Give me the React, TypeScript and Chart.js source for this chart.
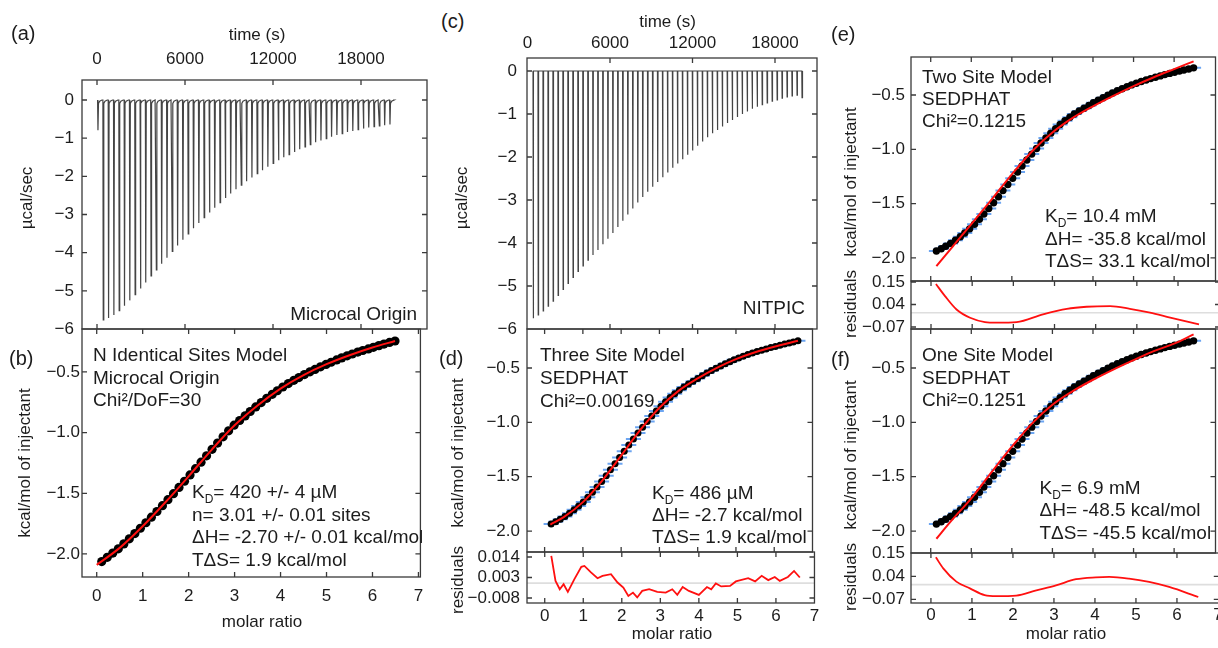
import React, { useEffect, useRef } from "react";
import { Chart, registerables } from "chart.js";

Chart.register(...registerables);

const FONT = "'Liberation Sans', Arial, Helvetica, sans-serif";
const INK = "#1c1c1c";
const FRAME = "#3a3a3a";

// ---------------- data ----------------
const injectionTimes = [
  40, 402, 764, 1126, 1488, 1850, 2212, 2574, 2936, 3298,
  3660, 4022, 4384, 4746, 5108, 5470, 5832, 6194, 6556, 6918,
  7280, 7642, 8004, 8366, 8728, 9090, 9452, 9814, 10176, 10538,
  10900, 11262, 11624, 11986, 12348, 12710, 13072, 13434, 13796, 14158,
  14520, 14882, 15244, 15606, 15968, 16330, 16692, 17054, 17416, 17778,
  18140, 18502, 18864, 19226, 19588, 19950,
];
// raw peak heights (µcal/sec), Microcal Origin, injections 1..56
const originPowerPeaks = [
  -0.79, -5.76, -5.71, -5.63, -5.52, -5.39, -5.25, -5.1, -4.94, -4.78,
  -4.61, -4.45, -4.29, -4.13, -3.97, -3.81, -3.66, -3.51, -3.36, -3.22,
  -3.08, -2.95, -2.82, -2.69, -2.57, -2.45, -2.34, -2.23, -2.13, -2.03,
  -1.93, -1.84, -1.75, -1.66, -1.58, -1.5, -1.43, -1.36, -1.29, -1.23,
  -1.17, -1.11, -1.06, -1.01, -0.96, -0.92, -0.88, -0.84, -0.81, -0.78,
  -0.75, -0.72, -0.7, -0.68, -0.66, -0.64,
];
// NITPIC baseline-corrected peaks, injections 2..56
const nitpicPowerPeaks = [
  -5.75, -5.67, -5.58, -5.47, -5.35, -5.22, -5.08, -4.94, -4.8, -4.66,
  -4.53, -4.4, -4.28, -4.16, -4.03, -3.9, -3.77, -3.63, -3.48, -3.34,
  -3.2, -3.06, -2.93, -2.81, -2.69, -2.58, -2.47, -2.36, -2.25, -2.15,
  -2.05, -1.95, -1.85, -1.74, -1.64, -1.54, -1.45, -1.37, -1.29, -1.21,
  -1.14, -1.07, -1.0, -0.94, -0.88, -0.83, -0.78, -0.74, -0.7, -0.67,
  -0.63, -0.6, -0.58, -0.56, -0.62,
];

const timeTicks = [0, 6000, 12000, 18000];
const powerTicks = [0, -1, -2, -3, -4, -5, -6];
const ratioTicks = [0, 1, 2, 3, 4, 5, 6, 7];
const heatTicks = [-2.0, -1.5, -1.0, -0.5];
const residTicksThree = [-0.008, 0.003, 0.014];
const residTicksTwoOne = [-0.07, 0.04, 0.15];

// Microcal Origin integrated heats
const originRatio = [
  0.11, 0.23, 0.35, 0.47, 0.59, 0.71, 0.83, 0.95, 1.07, 1.19,
  1.31, 1.43, 1.55, 1.67, 1.79, 1.91, 2.03, 2.15, 2.27, 2.39,
  2.51, 2.63, 2.75, 2.87, 2.99, 3.11, 3.23, 3.34, 3.46, 3.58,
  3.7, 3.82, 3.93, 4.05, 4.17, 4.29, 4.4, 4.52, 4.64, 4.75,
  4.87, 4.99, 5.1, 5.22, 5.33, 5.45, 5.56, 5.68, 5.79, 5.91,
  6.02, 6.14, 6.25, 6.37, 6.49,
];
const originHeat = [
  -2.063, -2.028, -1.993, -1.958, -1.917, -1.875, -1.832, -1.788, -1.743, -1.697,
  -1.65, -1.602, -1.553, -1.503, -1.452, -1.401, -1.349, -1.297, -1.244, -1.191,
  -1.138, -1.086, -1.035, -0.985, -0.939, -0.9, -0.862, -0.826, -0.788, -0.752,
  -0.717, -0.684, -0.655, -0.624, -0.596, -0.569, -0.546, -0.522, -0.499, -0.479,
  -0.458, -0.438, -0.42, -0.401, -0.384, -0.367, -0.352, -0.336, -0.323, -0.31,
  -0.297, -0.283, -0.27, -0.257, -0.245,
];
const originFitRatio = [0.0, 0.5, 1.0, 1.5, 2.0, 2.5, 3.0, 3.5, 4.0, 4.5, 5.0, 5.5, 6.0, 6.49];
const originFitHeat = [-2.09, -1.95, -1.772, -1.572, -1.36, -1.142, -0.94, -0.776, -0.637, -0.526, -0.436, -0.362, -0.298, -0.245];

// NITPIC / SEDPHAT integrated heats
const sedphatRatio = [
  0.14, 0.26, 0.37, 0.49, 0.61, 0.73, 0.84, 0.96, 1.08, 1.2,
  1.31, 1.43, 1.55, 1.67, 1.78, 1.9, 2.02, 2.14, 2.25, 2.37,
  2.49, 2.61, 2.72, 2.84, 2.96, 3.08, 3.19, 3.31, 3.43, 3.54,
  3.66, 3.78, 3.9, 4.01, 4.13, 4.25, 4.37, 4.48, 4.6, 4.72,
  4.84, 4.95, 5.07, 5.19, 5.31, 5.42, 5.54, 5.66, 5.77, 5.89,
  6.01, 6.13, 6.24, 6.36, 6.48,
];
const sedphatRatioThree = [
  0.17, 0.29, 0.41, 0.53, 0.65, 0.77, 0.89, 1.01, 1.13, 1.25,
  1.37, 1.49, 1.61, 1.72, 1.84, 1.96, 2.08, 2.2, 2.32, 2.44,
  2.56, 2.68, 2.8, 2.92, 3.04, 3.16, 3.28, 3.4, 3.52, 3.64,
  3.76, 3.88, 4.0, 4.12, 4.24, 4.36, 4.48, 4.6, 4.72, 4.84,
  4.95, 5.07, 5.19, 5.31, 5.43, 5.55, 5.67, 5.79, 5.91, 6.03,
  6.15, 6.27, 6.39, 6.5, 6.62,
];
const sedphatHeat = [
  -1.936, -1.915, -1.892, -1.866, -1.837, -1.805, -1.77, -1.732, -1.69, -1.644,
  -1.595, -1.544, -1.491, -1.436, -1.38, -1.323, -1.266, -1.209, -1.153, -1.098,
  -1.044, -0.992, -0.942, -0.895, -0.851, -0.81, -0.772, -0.737, -0.705, -0.675,
  -0.647, -0.621, -0.596, -0.571, -0.547, -0.524, -0.502, -0.481, -0.461, -0.442,
  -0.424, -0.407, -0.391, -0.376, -0.362, -0.349, -0.336, -0.324, -0.312, -0.301,
  -0.29, -0.28, -0.27, -0.26, -0.25,
];

const threeSiteFitRatio = [0.15, 0.5, 1.0, 1.5, 2.0, 2.5, 3.0, 3.5, 4.0, 4.5, 5.0, 5.5, 6.0, 6.62];
const threeSiteFitHeat = [-1.94, -1.872, -1.734, -1.538, -1.306, -1.07, -0.866, -0.71, -0.596, -0.498, -0.418, -0.355, -0.304, -0.25];
const twoSiteFitRatio = [0.14, 0.5, 1.0, 1.5, 2.0, 2.5, 3.0, 3.5, 4.0, 4.5, 5.0, 5.5, 6.0, 6.48];
const twoSiteFitHeat = [-2.076, -1.914, -1.689, -1.463, -1.23, -1.017, -0.845, -0.711, -0.604, -0.508, -0.418, -0.336, -0.261, -0.19];
const oneSiteFitRatio = [0.14, 0.5, 1.0, 1.5, 2.0, 2.5, 3.0, 3.5, 4.0, 4.5, 5.0, 5.5, 6.0, 6.48];
const oneSiteFitHeat = [-2.071, -1.909, -1.699, -1.458, -1.224, -1.009, -0.838, -0.713, -0.608, -0.514, -0.427, -0.344, -0.276, -0.191];

const threeSiteResidRatio = [
  0.17, 0.28, 0.39, 0.49, 0.6, 0.77, 0.95, 1.03, 1.2, 1.37,
  1.5, 1.72, 1.89, 2.04, 2.17, 2.29, 2.4, 2.53, 2.71, 2.92,
  3.14, 3.31, 3.44, 3.58, 3.74, 4.0, 4.21, 4.32, 4.44, 4.58,
  4.81, 4.96, 5.28, 5.46, 5.63, 5.8, 5.97, 6.1, 6.31, 6.47, 6.62,
];
const threeSiteResid = [
  0.0146, 0.0012, -0.0033, -0.0006, -0.0047, 0.0021, 0.0087, 0.0092, 0.0057, 0.0026,
  0.0039, 0.0048, 0.0003, -0.0024, -0.0069, -0.0051, -0.0077, -0.0042, -0.0033, -0.0047,
  -0.0051, -0.0033, -0.0063, -0.0021, -0.0042, -0.0063, -0.0021, -0.0033, -0.0002, -0.0018,
  -0.0015, 0.0009, 0.0026, 0.0009, 0.0039, 0.0016, 0.0033, 0.0012, 0.0033, 0.0065, 0.003,
];
const twoSiteResidRatio = [0.12, 0.34, 0.62, 0.95, 1.31, 1.6, 2.08, 2.72, 3.3, 3.78, 4.35, 4.83, 5.32, 5.81, 6.51];
const twoSiteResid = [0.14, 0.081, 0.0155, -0.025, -0.046, -0.049, -0.046, -0.008, 0.019, 0.029, 0.032, 0.019, 0.0, -0.024, -0.057];
const oneSiteResidRatio = [0.12, 0.3, 0.62, 0.95, 1.31, 1.6, 2.08, 2.57, 3.05, 3.54, 4.02, 4.35, 4.83, 5.32, 5.81, 6.52];
const oneSiteResid = [0.131, 0.078, 0.0146, -0.0175, -0.05, -0.055, -0.052, -0.027, -0.003, 0.026, 0.035, 0.037, 0.029, 0.013, -0.011, -0.059];

// ---------------- helpers ----------------
const pairs = (xs: number[], ys: number[]) => xs.map((x, i) => ({ x, y: ys[i] }));

function originTrace() {
  const pts: { x: number; y: number }[] = [];
  injectionTimes.forEach((t, i) => {
    pts.push({ x: t, y: 0 }, { x: t + 25, y: originPowerPeaks[i] }, { x: t + 60, y: -0.09 }, { x: t + 140, y: -0.03 }, { x: t + 300, y: 0 });
  });
  pts.push({ x: 20180, y: 0 });
  return pts;
}
function nitpicTrace() {
  const pts: { x: number; y: number }[] = [{ x: injectionTimes[1] - 20, y: 0 }];
  nitpicPowerPeaks.forEach((p, k) => {
    const t = injectionTimes[k + 1];
    pts.push({ x: t, y: 0 }, { x: t + 18, y: p }, { x: t + 40, y: 0 });
  });
  pts.push({ x: injectionTimes[injectionTimes.length - 1] + 60, y: 0 });
  return pts;
}

const minus = (v: number, d: number) => (v < 0 ? "\u2212" : "") + Math.abs(v).toFixed(d);

const framePlugin = {
  id: "frame",
  afterDatasetsDraw(chart: any) {
    const { ctx, chartArea: a } = chart;
    const xs = chart.scales.x;
    const ys = chart.scales.y;
    const L = 5;
    ctx.save();
    ctx.strokeStyle = FRAME;
    ctx.lineWidth = 1.3;
    ctx.beginPath();
    for (const t of xs.ticks) {
      const p = xs.getPixelForValue(t.value);
      if (p < a.left + 1 || p > a.right - 1) continue;
      ctx.moveTo(p, a.top);
      ctx.lineTo(p, a.top + L);
      ctx.moveTo(p, a.bottom);
      ctx.lineTo(p, a.bottom - L);
    }
    for (const t of ys.ticks) {
      const p = ys.getPixelForValue(t.value);
      if (p < a.top + 1 || p > a.bottom - 1) continue;
      ctx.moveTo(a.left, p);
      ctx.lineTo(a.left + L, p);
      ctx.moveTo(a.right, p);
      ctx.lineTo(a.right - L, p);
    }
    ctx.stroke();
    ctx.strokeRect(a.left, a.top, a.right - a.left, a.bottom - a.top);
    ctx.restore();
  },
};

type Spec = {
  left: number; top: number; width: number; height: number;
  padTop: number; padRight: number; padBottom: number;
  xPos: "top" | "bottom"; xHeight: number; xMin: number; xMax: number; xTicks: number[];
  xLabels: boolean; xPad: number; xFmt: (v: number) => string;
  yWidth: number; yMin: number; yMax: number; yTicks: number[]; yPad: number; yFmt: (v: number) => string;
  datasets: any[];
};

function makeConfig(p: Spec): any {
  const tickFont = { family: FONT, size: 17 };
  return {
    type: "scatter",
    data: { datasets: p.datasets },
    options: {
      responsive: false,
      animation: false,
      events: [],
      layout: { padding: { left: 0, top: p.padTop, right: p.padRight, bottom: p.padBottom } },
      plugins: { legend: { display: false }, tooltip: { enabled: false }, title: { display: false } },
      scales: {
        x: {
          type: "linear",
          position: p.xPos,
          min: p.xMin,
          max: p.xMax,
          grid: { display: false, drawTicks: false },
          border: { display: false },
          ticks: { display: p.xLabels, padding: p.xPad, autoSkip: false, maxRotation: 0, color: INK, font: tickFont, callback: (v: number) => p.xFmt(v) },
          afterBuildTicks: (s: any) => { s.ticks = p.xTicks.map((v) => ({ value: v })); },
          afterFit: (s: any) => { s.height = p.xHeight; },
        },
        y: {
          type: "linear",
          position: "left",
          min: p.yMin,
          max: p.yMax,
          grid: { display: false, drawTicks: false },
          border: { display: false },
          ticks: { padding: p.yPad, autoSkip: false, color: INK, font: tickFont, callback: (v: number) => p.yFmt(v) },
          afterBuildTicks: (s: any) => { s.ticks = p.yTicks.map((v) => ({ value: v })); },
          afterFit: (s: any) => { s.width = p.yWidth; },
        },
      },
    },
    plugins: [framePlugin],
  };
}

function Panel({ spec }: { spec: Spec }) {
  const ref = useRef<HTMLCanvasElement>(null);
  useEffect(() => {
    const chart = new Chart(ref.current as HTMLCanvasElement, makeConfig(spec));
    return () => chart.destroy();
  }, []);
  return (
    <canvas
      ref={ref}
      width={spec.width}
      height={spec.height}
      style={{ position: "absolute", left: spec.left, top: spec.top, width: spec.width, height: spec.height }}
    />
  );
}

const lineDs = (data: any[], color: string, width: number, smooth = false) => ({
  data, showLine: true, borderColor: color, borderWidth: width, pointRadius: 0,
  tension: 0, cubicInterpolationMode: smooth ? "monotone" : "default", fill: false,
});
const dotDs = (data: any[], r: number) => ({
  data, pointRadius: r, pointBackgroundColor: "#000", pointBorderWidth: 0, borderColor: "#000", showLine: false,
});
const barDs = (data: any[]) => ({
  data, pointStyle: "line", pointRadius: 7.5, pointBorderColor: "rgba(100,160,240,0.95)", borderColor: "rgba(100,160,240,0.95)",
  pointBorderWidth: 2, showLine: false,
});

const fInt = (v: number) => minus(v, 0);
const f1 = (v: number) => minus(v, 1);
const f2 = (v: number) => minus(v, 2);
const f3 = (v: number) => minus(v, 3);
const fTime = (v: number) => String(v);

const M = 22; // room kept for Chart.js' own label padding

const specA: Spec = {
  left: 0, top: 0, width: 432, height: 329 + M, padTop: 0, padRight: 5, padBottom: M,
  xPos: "top", xHeight: 80, xMin: -1023, xMax: 22500, xTicks: timeTicks, xLabels: true, xPad: 10.8, xFmt: fTime,
  yWidth: 82, yMin: -6, yMax: 0.524, yTicks: powerTicks, yPad: 8, yFmt: fInt,
  datasets: [lineDs(originTrace(), "#444444", 1.2)],
};
const specB: Spec = {
  left: 0, top: 329 - M, width: 432, height: 577 - 329 + M + 50, padTop: M, padRight: 5, padBottom: 0,
  xPos: "bottom", xHeight: 50, xMin: -0.32, xMax: 7.043, xTicks: ratioTicks, xLabels: true, xPad: 8.8, xFmt: fInt,
  yWidth: 82, yMin: -2.19, yMax: -0.146, yTicks: heatTicks, yPad: 2, yFmt: f1,
  datasets: [lineDs(pairs(originFitRatio, originFitHeat), "#ff1010", 2, true), dotDs(pairs(originRatio, originHeat), 4.6)],
};
const specC: Spec = {
  left: 467, top: 0, width: 355, height: 329 + M, padTop: 0, padRight: 5, padBottom: M,
  xPos: "top", xHeight: 58, xMin: -36, xMax: 21055, xTicks: timeTicks, xLabels: true, xPad: 4.3, xFmt: fTime,
  yWidth: 60, yMin: -6, yMax: 0.302, yTicks: powerTicks, yPad: 10, yFmt: fInt,
  datasets: [lineDs(nitpicTrace(), "#444444", 1.2)],
};
const specDMain: Spec = {
  left: 467, top: 329 - M, width: 355, height: 552 - 329 + 2 * M, padTop: M, padRight: 5, padBottom: M,
  xPos: "bottom", xHeight: 0, xMin: -0.46, xMax: 7, xTicks: ratioTicks, xLabels: false, xPad: 0, xFmt: fInt,
  yWidth: 60, yMin: -2.193, yMax: -0.141, yTicks: heatTicks, yPad: 7, yFmt: f1,
  datasets: [
    lineDs(pairs(threeSiteFitRatio, threeSiteFitHeat), "#ff1010", 2, true),
    dotDs(pairs(sedphatRatioThree, sedphatHeat), 3.5),
    barDs(pairs(sedphatRatioThree, sedphatHeat)),
  ],
};
const specDRes: Spec = {
  left: 467, top: 552 - M, width: 355, height: 603 - 552 + M + 40, padTop: M, padRight: 5, padBottom: 0,
  xPos: "bottom", xHeight: 40, xMin: -0.46, xMax: 7, xTicks: ratioTicks, xLabels: true, xPad: 2.8, xFmt: fInt,
  yWidth: 60, yMin: -0.01068, yMax: 0.01668, yTicks: residTicksThree, yPad: 7, yFmt: f3,
  datasets: [lineDs(pairs(threeSiteResidRatio, threeSiteResid), "#ff1010", 1.8), lineDs([{ x: -0.46, y: 0 }, { x: 7, y: 0 }], "#dedede", 1.6)],
};
const specEMain: Spec = {
  left: 851, top: 57 - M, width: 374, height: 281 - 57 + 2 * M, padTop: M, padRight: 5, padBottom: M,
  xPos: "bottom", xHeight: 0, xMin: -0.486, xMax: 7.02, xTicks: ratioTicks, xLabels: false, xPad: 0, xFmt: fInt,
  yWidth: 60, yMin: -2.212, yMax: -0.15, yTicks: heatTicks, yPad: 6, yFmt: f1,
  datasets: [
    lineDs(pairs(twoSiteFitRatio, twoSiteFitHeat), "#ff1010", 2, true),
    dotDs(pairs(sedphatRatio, sedphatHeat), 3.7),
    barDs(pairs(sedphatRatio, sedphatHeat)),
  ],
};
const specERes: Spec = {
  left: 851, top: 281 - M, width: 374, height: 329 - 281 + 2 * M, padTop: M, padRight: 5, padBottom: M,
  xPos: "bottom", xHeight: 0, xMin: -0.486, xMax: 7.02, xTicks: ratioTicks, xLabels: false, xPad: 0, xFmt: fInt,
  yWidth: 60, yMin: -0.0798, yMax: 0.1549, yTicks: residTicksTwoOne, yPad: 6, yFmt: f2,
  datasets: [lineDs(pairs(twoSiteResidRatio, twoSiteResid), "#ff1010", 1.8, true), lineDs([{ x: -0.486, y: 0 }, { x: 7.02, y: 0 }], "#dedede", 1.6)],
};
const specFMain: Spec = {
  left: 851, top: 329 - M, width: 374, height: 553 - 329 + 2 * M, padTop: M, padRight: 5, padBottom: M,
  xPos: "bottom", xHeight: 0, xMin: -0.486, xMax: 7.02, xTicks: ratioTicks, xLabels: false, xPad: 0, xFmt: fInt,
  yWidth: 60, yMin: -2.202, yMax: -0.141, yTicks: heatTicks, yPad: 6, yFmt: f1,
  datasets: [
    lineDs(pairs(oneSiteFitRatio, oneSiteFitHeat), "#ff1010", 2, true),
    dotDs(pairs(sedphatRatio, sedphatHeat), 3.7),
    barDs(pairs(sedphatRatio, sedphatHeat)),
  ],
};
const specFRes: Spec = {
  left: 851, top: 553 - M, width: 374, height: 603 - 553 + M + 40, padTop: M, padRight: 5, padBottom: 0,
  xPos: "bottom", xHeight: 40, xMin: -0.486, xMax: 7.02, xTicks: ratioTicks, xLabels: true, xPad: 2.3, xFmt: fInt,
  yWidth: 60, yMin: -0.0877, yMax: 0.1515, yTicks: residTicksTwoOne, yPad: 6, yFmt: f2,
  datasets: [lineDs(pairs(oneSiteResidRatio, oneSiteResid), "#ff1010", 1.8, true), lineDs([{ x: -0.486, y: 0 }, { x: 7.02, y: 0 }], "#dedede", 1.6)],
};

// ---------------- text overlays ----------------
function Txt({ x, y, size = 19, lh = 22.6, align = "left", lines }: { x: number; y: number; size?: number; lh?: number; align?: string; lines: React.ReactNode[] }) {
  const top = y - (lh / 2 + 0.3465 * size);
  const tr = align === "right" ? "translateX(-100%)" : align === "center" ? "translateX(-50%)" : undefined;
  return (
    <div style={{ position: "absolute", left: x, top, fontSize: size, lineHeight: `${lh}px`, whiteSpace: "nowrap", transform: tr, fontFamily: FONT, color: INK, textAlign: align as any }}>
      {lines.map((l, i) => (
        <div key={i}>{l}</div>
      ))}
    </div>
  );
}
function VTxt({ x, y, text }: { x: number; y: number; text: string }) {
  return (
    <div style={{ position: "absolute", left: x, top: y, transform: "translate(-50%,-50%) rotate(-90deg)", fontSize: 17, lineHeight: "20px", whiteSpace: "nowrap", fontFamily: FONT, color: INK }}>
      {text}
    </div>
  );
}
const KD = () => (
  <>
    K<span style={{ fontSize: 12, verticalAlign: -5, lineHeight: 0 }}>D</span>
  </>
);

export default function App() {
  const specs = [specA, specB, specC, specDMain, specDRes, specEMain, specERes, specFMain, specFRes];
  return (
    <div style={{ position: "fixed", left: 0, top: 0, width: 1218, height: 648, overflow: "hidden", background: "#fff", fontFamily: FONT }}>
      {specs.map((s, i) => (
        <Panel key={i} spec={s} />
      ))}
      {/* panel letters */}
      <Txt x={11} y={40} size={20} lh={24} lines={["(a)"]} />
      <Txt x={9} y={365} size={20} lh={24} lines={["(b)"]} />
      <Txt x={441} y={28} size={20} lh={24} lines={["(c)"]} />
      <Txt x={439} y={365} size={20} lh={24} lines={["(d)"]} />
      <Txt x={831} y={41} size={20} lh={24} lines={["(e)"]} />
      <Txt x={831} y={366} size={20} lh={24} lines={["(f)"]} />

      {/* axis titles */}
      <Txt x={257} y={40.5} size={17} lh={20} align="center" lines={["time (s)"]} />
      <Txt x={667.5} y={27.5} size={17} lh={20} align="center" lines={["time (s)"]} />
      <Txt x={262} y={628} size={17} lh={20} align="center" lines={["molar ratio"]} />
      <Txt x={672} y={640} size={17} lh={20} align="center" lines={["molar ratio"]} />
      <Txt x={1066} y={640} size={17} lh={20} align="center" lines={["molar ratio"]} />
      <VTxt x={27} y={198} text={"\u00b5cal/sec"} />
      <VTxt x={24.5} y={463} text="kcal/mol of injectant" />
      <VTxt x={461.5} y={198} text={"\u00b5cal/sec"} />
      <VTxt x={457.5} y={453} text="kcal/mol of injectant" />
      <VTxt x={457.5} y={580} text="residuals" />
      <VTxt x={851} y={182} text="kcal/mol of injectant" />
      <VTxt x={851} y={304} text="residuals" />
      <VTxt x={851} y={455} text="kcal/mol of injectant" />
      <VTxt x={851} y={577} text="residuals" />

      {/* annotations */}
      <Txt x={417} y={321} align="right" lines={["Microcal Origin"]} />
      <Txt x={805} y={315} align="right" lines={["NITPIC"]} />
      <Txt x={93} y={362} lh={22.6} lines={["N Identical Sites Model", "Microcal Origin", "Chi\u00b2/DoF=30"]} />
      <Txt
        x={192}
        y={499}
        lh={22.6}
        lines={[
          <><KD />= 420 +/- 4 {"\u00b5"}M</>,
          "n= 3.01 +/- 0.01 sites",
          "\u0394H= -2.70 +/- 0.01 kcal/mol",
          "T\u0394S= 1.9 kcal/mol",
        ]}
      />
      <Txt x={540} y={361} lh={23.2} lines={["Three Site Model", "SEDPHAT", "Chi\u00b2=0.00169"]} />
      <Txt x={652} y={499.5} lh={22} lines={[<><KD />= 486 {"\u00b5"}M</>, "\u0394H= -2.7 kcal/mol", "T\u0394S= 1.9 kcal/mol"]} />
      <Txt x={922} y={83.3} lh={22.2} lines={["Two Site Model", "SEDPHAT", "Chi\u00b2=0.1215"]} />
      <Txt x={1045} y={223} lh={22.7} lines={[<><KD />= 10.4 mM</>, "\u0394H= -35.8 kcal/mol", "T\u0394S= 33.1 kcal/mol"]} />
      <Txt x={922} y={362} lh={22.5} lines={["One Site Model", "SEDPHAT", "Chi\u00b2=0.1251"]} />
      <Txt x={1039.5} y={494.5} lh={22.5} lines={[<><KD />= 6.9 mM</>, "\u0394H= -48.5 kcal/mol", "T\u0394S= -45.5 kcal/mol"]} />
    </div>
  );
}
